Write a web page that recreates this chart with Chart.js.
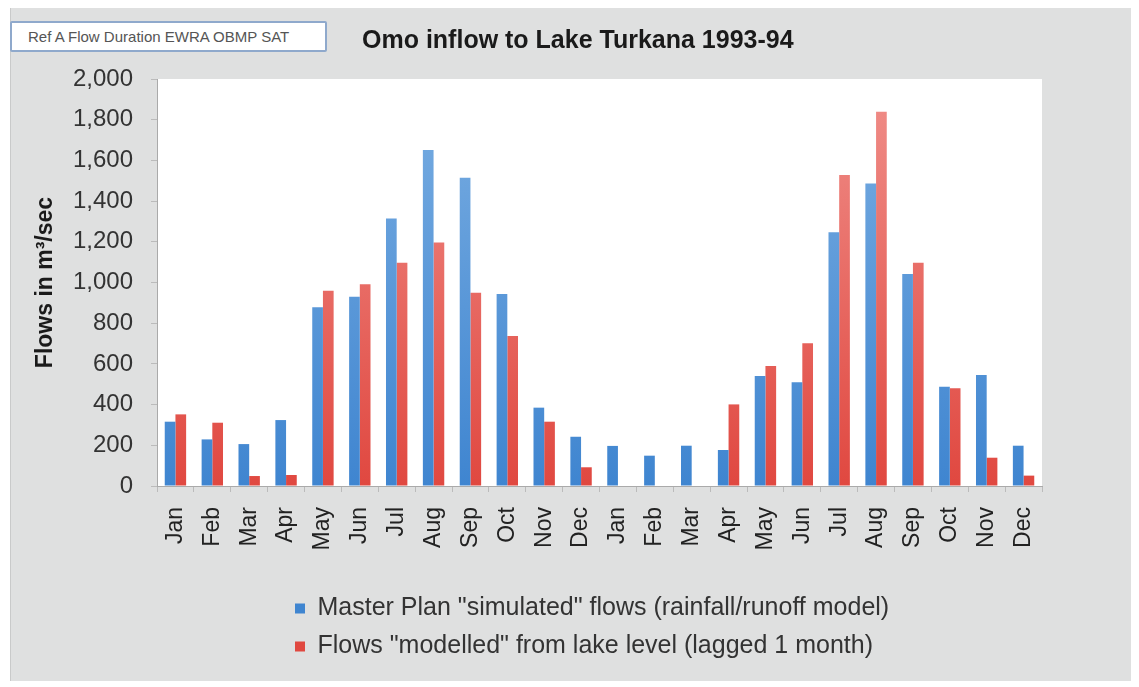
<!DOCTYPE html>
<html>
<head>
<meta charset="utf-8">
<script src="https://cdn.jsdelivr.net/npm/chart.js@4.4.0/dist/chart.umd.min.js"></script>
<style>
  body { margin: 0; background: #ffffff; }
  #frame { position: absolute; left: 10px; top: 8px; width: 1120px; height: 673px; background: #dfe0e0; border-left: 1px solid #c9caca; }
  #wrap { position: absolute; left: 0; top: 0; width: 1139px; height: 687px; }
  #refBox { position: absolute; left: 10px; top: 21px; width: 317px; height: 31px; background: #fff; border: 2px solid #8fa9cc; border-radius: 2px;
            font: 15px "Liberation Sans", Arial, sans-serif; color: #555; line-height: 27px; padding-left: 16px; box-sizing: border-box; white-space: nowrap; }
  #title { position: absolute; left: 362px; top: 25px; font: bold 25px "Liberation Sans", Arial, sans-serif; color: #1a1a1a; white-space: nowrap; }
</style>
</head>
<body>
<div id="frame"></div>
<div id="wrap"><canvas id="myChart" width="1139" height="687"></canvas></div>
<div id="refBox">Ref A Flow Duration EWRA OBMP SAT</div>
<div id="title">Omo inflow to Lake Turkana 1993-94</div>
<script>
// Měsíce 1993-94
const months = ["Jan", "Feb", "Mar", "Apr", "May", "Jun", "Jul", "Aug", "Sep", "Oct", "Nov", "Dec",
                "Jan", "Feb", "Mar", "Apr", "May", "Jun", "Jul", "Aug", "Sep", "Oct", "Nov", "Dec"];

// Master Plan "simulated" flows
const simulated = [316, 229, 206, 324, 878, 930, 1315, 1651, 1515, 943, 385, 242,
                   197, 149, 198, 177, 540, 510, 1247, 1487, 1042, 488, 545, 198];

// Flows "modelled" from lake level
const modelled = [352, 311, 49, 54, 960, 991, 1097, 1196, 950, 737, 316, 92,
                  0, 0, 0, 401, 590, 701, 1528, 1839, 1097, 480, 139, 51];

const yTicks = [0, 200, 400, 600, 800, 1000, 1200, 1400, 1600, 1800, 2000];

const seriesNames = ['Master Plan "simulated" flows (rainfall/runoff model)',
                     'Flows "modelled" from lake level (lagged 1 month)'];

function barGradient(ctx, light, dark) {
    const chart = ctx.chart;
    const area = chart.chartArea;
    if (!area) return dark;
    const g = chart.ctx.createLinearGradient(0, area.top, 0, area.bottom);
    g.addColorStop(0, light);
    g.addColorStop(1, dark);
    return g;
}

// bílá plocha grafu
const plotBg = {
    id: 'plotBg',
    beforeDraw(chart) {
        const a = chart.chartArea;
        chart.ctx.save();
        chart.ctx.fillStyle = '#ffffff';
        chart.ctx.fillRect(a.left, a.top, a.right - a.left, a.bottom - a.top);
        chart.ctx.restore();
    }
};

// legenda zarovnaná vlevo od x = 282
const legendShift = {
    id: 'legendShift',
    afterLayout(chart) {
        const lg = chart.legend;
        const w = lg.right - lg.left;
        lg.left = 282;
        lg.right = 282 + w;
    }
};

const ctx = document.getElementById('myChart').getContext('2d');
new Chart(ctx, {
    type: 'bar',
    data: {
        labels: months,
        datasets: [{
            label: seriesNames[0],
            data: simulated,
            backgroundColor: c => barGradient(c, '#7aaee2', '#3f85d0'),
            borderWidth: 0
        }, {
            label: seriesNames[1],
            data: modelled,
            backgroundColor: c => barGradient(c, '#f08f8a', '#e04840'),
            borderWidth: 0
        }]
    },
    options: {
        responsive: false,
        animation: false,
        layout: { padding: { left: 0, right: 97, top: 79, bottom: 18 } },
        datasets: { bar: { barPercentage: 1, categoryPercentage: 0.58 } },
        plugins: {
            title: { display: false },
            legend: {
                position: 'bottom',
                align: 'start',
                labels: {
                    color: '#333',
                    font: { family: '"Liberation Sans", Arial', size: 25 },
                    boxWidth: 10,
                    boxHeight: 10,
                    padding: 13
                }
            },
            tooltip: { enabled: false }
        },
        scales: {
            x: {
                grid: { display: true, drawOnChartArea: false, drawTicks: true, tickLength: 6, color: '#bbb', offset: true },
                border: { color: '#aaa' },
                ticks: {
                    color: '#222',
                    font: { family: '"Liberation Sans", Arial', size: 23 },
                    minRotation: 90, maxRotation: 90, autoSkip: false, padding: 15
                },
                afterFit: s => { s.height = 97; }
            },
            y: {
                min: 0, max: 2000,
                afterBuildTicks: s => { s.ticks = yTicks.map(v => ({ value: v })); },
                grid: { display: true, drawOnChartArea: false, tickLength: 6, color: '#bbb' },
                border: { color: '#aaa' },
                ticks: {
                    color: '#333',
                    font: { family: '"Liberation Sans", Arial', size: 24 },
                    padding: 18,
                    callback: v => v.toLocaleString('en-US')
                },
                title: {
                    display: true,
                    text: 'Flows in m³/sec',
                    color: '#1a1a1a',
                    font: { family: '"Liberation Sans", Arial', size: 23, weight: 'bold' },
                    padding: { top: 32, bottom: 0 }
                },
                afterFit: s => { s.width = 157; }
            }
        }
    },
    plugins: [plotBg, legendShift]
});
</script>
</body>
</html>
